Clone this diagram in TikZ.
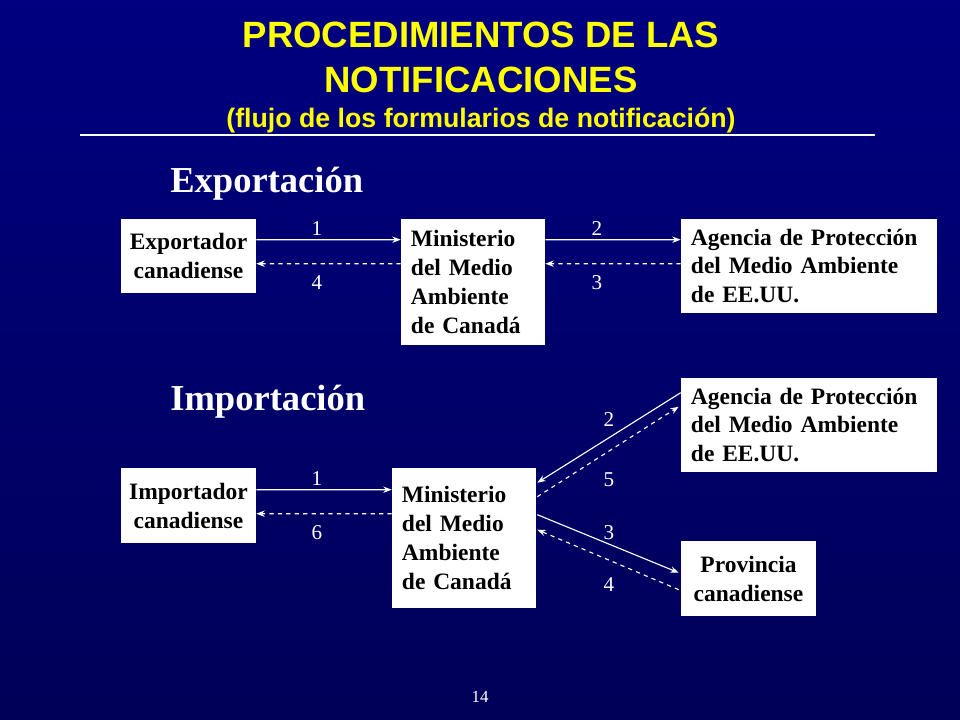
\documentclass[tikz,border=0pt]{standalone}
\usepackage{fontspec}
\setmainfont{Liberation Serif}
\newfontfamily\headfont{Liberation Sans}
\usetikzlibrary{calc,arrows.meta}
\definecolor{navytop}{RGB}{0,0,128}
\definecolor{navybot}{RGB}{0,0,88}
\definecolor{titleyellow}{RGB}{255,255,0}

\tikzset{
  >={Stealth[length=6pt,width=4.5pt,inset=2pt]},
  box/.style={rectangle,fill=white,text=black,font=\fontsize{16.7}{20.6}\selectfont\bfseries,inner xsep=0.25cm,inner ysep=0pt},
  smallbox/.style={box,align=center,inner xsep=0.1cm,minimum width=3.375cm,minimum height=1.875cm},
  num/.style={text=white,font=\fontsize{15}{18}\selectfont},
  flow/.style={->,white,line width=0.8pt},
  back/.style={->,white,line width=0.8pt,dashed}
}

\begin{document}
\begin{tikzpicture}[x=0.025cm,y=-0.025cm]
\useasboundingbox (0,0) rectangle (960,720);
\shade [top color=navytop,bottom color=navybot] (0,0) rectangle (960,720);

% title
\node [text=titleyellow,font=\headfont\bfseries\fontsize{26}{30}\selectfont,anchor=base] (title1) at(481,48){PROCEDIMIENTOS DE LAS};
\node [text=titleyellow,font=\headfont\bfseries\fontsize{26}{30}\selectfont,anchor=base] (title2) at(481,93){NOTIFICACIONES};
\node [text=titleyellow,font=\headfont\bfseries\fontsize{19}{22}\selectfont,anchor=base] (subtitle) at(481,128){(flujo de los formularios de notificación)};
\draw [white,line width=2pt] (80,135) -- (875,135);

% exportacion
\node [text=white,font=\fontsize{26}{30}\selectfont\bfseries,anchor=base west,inner sep=0pt] (exphead) at(170,193){Exportación};
\node [smallbox,minimum height=1.85cm] (expo) at(188.5,256){Exportador\\canadiense};
\node [box,align=left,text width=3.1cm,minimum height=3.15cm] (mine) at(473,282){Ministerio\\del Medio\\Ambiente\\de Canadá};
\node [box,align=left,text width=5.9cm,minimum height=2.35cm] (agee) at(809,266){Agencia de Protección\\del Medio Ambiente\\de EE.UU.};

\draw [flow] ($(expo.north east)+(0,21)$) -- ($(mine.north west)+(0,21)$);
\draw [back] ($(mine.north west)+(0,45)$) -- ($(expo.north east)+(0,45)$);
\draw [flow] ($(mine.north east)+(0,21)$) -- ($(agee.north west)+(0,21)$);
\draw [back] ($(agee.north west)+(0,45)$) -- ($(mine.north east)+(0,45)$);
\node [num] (e1) at(317,229){1};
\node [num] (e4) at(317,283){4};
\node [num] (e2) at(597,229){2};
\node [num] (e3) at(597,283){3};

% importacion
\node [text=white,font=\fontsize{26}{30}\selectfont\bfseries,anchor=base west,inner sep=0pt] (imphead) at(170,411){Importación};
\node [smallbox] (impo) at(188.5,505.5){Importador\\canadiense};
\node [box,align=left,text width=3.1cm,minimum height=3.5cm] (mini) at(464,538){Ministerio\\del Medio\\Ambiente\\de Canadá};
\node [box,align=left,text width=5.9cm,minimum height=2.35cm] (agei) at(809,425){Agencia de Protección\\del Medio Ambiente\\de EE.UU.};
\node [smallbox] (prov) at(748.5,578.5){Provincia\\canadiense};

\draw [flow] ($(impo.north east)+(0,22)$) -- ($(mini.north west)+(0,22)$);
\draw [back] ($(mini.north west)+(0,46)$) -- ($(impo.north east)+(0,46)$);
\draw [flow] ($(agei.north west)+(0,15)$) -- ($(mini.north east)+(1,15)$);
\draw [back] ($(mini.north east)+(1,29)$) -- ($(agei.north west)+(-2,29)$);
\draw [flow] ($(mini.north east)+(1,47)$) -- ($(prov.north west)+(-2,32)$);
\draw [back] ($(prov.north west)+(-2,49)$) -- ($(mini.north east)+(1,62)$);
\node [num] (i1) at(317,479){1};
\node [num] (i6) at(317,533){6};
\node [num] (i2) at(609,420){2};
\node [num] (i5) at(609,480){5};
\node [num] (i3) at(609,533){3};
\node [num] (i4) at(609,585){4};

% page number
\node [text=white,font=\fontsize{12}{14}\selectfont] (page) at(480,697){14};
\end{tikzpicture}
\end{document}
